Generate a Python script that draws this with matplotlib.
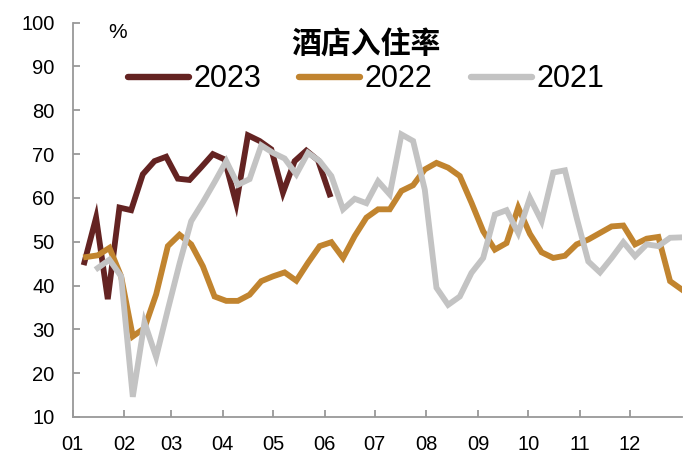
import numpy as np
import pandas as pd
import matplotlib
matplotlib.use("Agg")
import matplotlib.pyplot as plt

plt.rcParams['font.family'] = ['Liberation Sans', 'Noto Sans CJK SC', 'DejaVu Sans']

# 酒店入住率 (%) weekly
v2023 = [45.3, 55.5, 36.9, 57.8, 57.2, 65.4, 68.4, 69.4, 64.4, 64.1, 67.0,
         70.0, 68.8, 58.7, 74.3, 73.0, 71.1, 61.2, 68.4, 70.8, 68.6, 60.8]
v2022 = [46.5, 46.9, 48.6, 42.1, 28.4, 30.3, 38.0, 49.0, 51.6, 49.4, 44.4,
         37.5, 36.5, 36.5, 37.9, 41.0, 42.1, 43.0, 41.1, 45.2, 49.0, 49.9,
         46.3, 51.3, 55.5, 57.4, 57.4, 61.6, 62.9, 66.5, 68.0, 66.9, 65.0,
         58.9, 52.4, 48.2, 49.7, 57.8, 51.8, 47.6, 46.3, 46.8, 49.4, 50.5,
         52.0, 53.5, 53.7, 49.4, 50.7, 51.1, 41.0, 39.1]
v2021 = [44.0, 45.9, 42.1, 14.6, 31.6, 23.7, 34.5, 45.0, 54.7, 59.0, 63.6,
         68.4, 63.0, 64.3, 72.0, 70.3, 69.0, 65.4, 70.3, 68.4, 65.0, 57.4,
         59.8, 58.8, 63.8, 60.8, 74.5, 73.0, 61.9, 39.5, 35.6, 37.5, 42.9,
         46.3, 56.2, 57.2, 52.0, 60.0, 54.7, 65.8, 66.3, 55.5, 45.5, 43.0,
         46.3, 49.9, 46.7, 49.4, 49.0, 50.9, 51.0]


def day_of_year(start, n, year):
    dates = pd.date_range(start, periods=n, freq="7D")
    return (dates - pd.Timestamp(f"{year}-01-01")).days


d2023 = day_of_year("2023-01-08", len(v2023), 2023)
d2022 = day_of_year("2022-01-09", len(v2022), 2022)
d2021 = day_of_year("2021-01-16", len(v2021), 2021)

month_labels = ["01", "02", "03", "04", "05", "06", "07", "08", "09", "10", "11", "12"]
month_starts = pd.date_range("2023-01-01", periods=12, freq="MS").dayofyear - 1

fig = plt.figure(figsize=(7, 4.63), dpi=100)
ax = fig.add_axes([0.1039, 0.0994, 0.87, 0.8516])

lw = 4.2
ax.plot(d2023, v2023, color="#642322", lw=lw, label="2023", solid_joinstyle="miter")
ax.plot(d2022, v2022, color="#C1842F", lw=lw, label="2022", solid_joinstyle="miter")
ax.plot(d2021, v2021, color="#C3C3C3", lw=lw, label="2021", solid_joinstyle="miter")

ax.set_xlim(0, 365)
ax.set_ylim(10, 100)
ax.set_yticks(np.arange(10, 101, 10))
ax.set_xticks(month_starts)
ax.set_xticklabels(month_labels)

for s in ["top", "right"]:
    ax.spines[s].set_visible(False)
for s in ["left", "bottom"]:
    ax.spines[s].set_color("#999999")
    ax.spines[s].set_linewidth(1.3)
ax.tick_params(axis="both", direction="in", length=5, width=1.3, color="#999999",
               labelsize=14.5, pad=13)

ax.text(0.073, 0.975, "%", transform=ax.transAxes, fontsize=15, ha="center", va="center")

leg = ax.legend(loc="upper center", bbox_to_anchor=(366 / 700, 0.935),
                bbox_transform=fig.transFigure, ncol=3, frameon=False,
                title="酒店入住率", handlelength=2.0, handletextpad=0.15,
                columnspacing=1.25, borderaxespad=0, borderpad=0,
                prop={"size": 22},
                title_fontproperties={"family": "Noto Sans CJK SC", "weight": "bold", "size": 21.5})
leg._legend_box.sep = 3
for h in leg.get_lines():
    h.set_linewidth(4.6)
    h.set_solid_capstyle("round")

fig.savefig("out.png", dpi=100)
